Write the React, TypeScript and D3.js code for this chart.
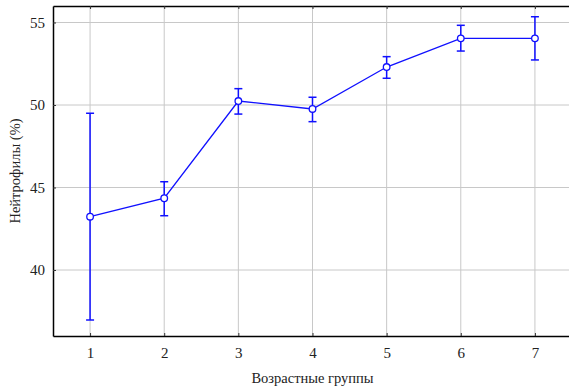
import { useEffect, useRef } from "react";
import * as d3 from "d3";

// age groups on the x axis
const groups = [1, 2, 3, 4, 5, 6, 7];
// neutrophil mean (%) per group
const means = [43.23, 44.35, 50.24, 49.76, 52.3, 54.04, 54.04];
// upper / lower ends of the whiskers
const upper = [49.5, 45.35, 50.99, 50.47, 52.93, 54.83, 55.35];
const lower = [36.97, 43.29, 49.45, 48.99, 51.62, 53.27, 52.73];
const yTicks = [40, 45, 50, 55];

const W = 569;
const H = 387;

const App = () => {
  const svgRef = useRef<SVGSVGElement>(null);

  useEffect(() => {
    const margin = { top: 6, right: -3, bottom: 51, left: 53 };
    const width = W - margin.left - margin.right;
    const height = H - margin.top - margin.bottom;
    const font = "'Liberation Serif', 'Times New Roman', serif";
    const blue = "#1010ff";

    const root = d3.select(svgRef.current);
    root.selectAll("*").remove();

    const g = root
      .append("g")
      .attr("transform", `translate(${margin.left},${margin.top})`);

    const x = d3.scaleLinear().domain([0.5, 7.5]).range([0, width]);
    const y = d3.scaleLinear().domain([36, 56]).range([height, 0]);

    // grid
    g.selectAll(".vgrid")
      .data(groups)
      .enter()
      .append("line")
      .attr("x1", (d) => x(d))
      .attr("x2", (d) => x(d))
      .attr("y1", 0)
      .attr("y2", height)
      .attr("stroke", "#c8c8c8")
      .attr("stroke-width", 1);

    g.selectAll(".hgrid")
      .data(yTicks)
      .enter()
      .append("line")
      .attr("x1", 0)
      .attr("x2", width)
      .attr("y1", (d) => y(d))
      .attr("y2", (d) => y(d))
      .attr("stroke", "#c8c8c8")
      .attr("stroke-width", 1);

    // axes (small inner ticks like the original)
    const xAxis = g
      .append("g")
      .attr("transform", `translate(0,${height})`)
      .call(
        d3.axisBottom(x).tickValues(groups).tickFormat(d3.format("d"))
          .tickSizeInner(-3).tickSizeOuter(0).tickPadding(11)
      );
    const yAxis = g
      .append("g")
      .call(d3.axisLeft(y).tickValues(yTicks).tickFormat(d3.format("d")).tickSizeInner(-3).tickSizeOuter(0).tickPadding(8));
    const topAxis = g
      .append("g")
      .call(d3.axisTop(x).tickValues(groups).tickSizeInner(-3).tickSizeOuter(0).tickFormat(() => ""));

    [xAxis, yAxis, topAxis].forEach((a) => {
      a.attr("font-family", font).attr("font-size", 15);
      a.select(".domain").attr("stroke", "#000").attr("stroke-width", 1.5);
      a.selectAll(".tick line").attr("stroke", "#333");
      a.selectAll("text").attr("fill", "#222");
    });

    // error bars
    const capW = 4;
    const bars = g
      .selectAll(".err")
      .data(groups)
      .enter()
      .append("g")
      .attr("stroke", blue)
      .attr("stroke-width", 1.5);
    bars
      .append("line")
      .attr("x1", (d) => x(d))
      .attr("x2", (d) => x(d))
      .attr("y1", (_, i) => y(upper[i]))
      .attr("y2", (_, i) => y(lower[i]));
    bars
      .append("line")
      .attr("x1", (d) => x(d) - capW)
      .attr("x2", (d) => x(d) + capW)
      .attr("y1", (_, i) => y(upper[i]))
      .attr("y2", (_, i) => y(upper[i]));
    bars
      .append("line")
      .attr("x1", (d) => x(d) - capW)
      .attr("x2", (d) => x(d) + capW)
      .attr("y1", (_, i) => y(lower[i]))
      .attr("y2", (_, i) => y(lower[i]));

    // mean line
    const line = d3
      .line<number>()
      .x((d) => x(d))
      .y((_, i) => y(means[i]));
    g.append("path")
      .datum(groups)
      .attr("d", line)
      .attr("fill", "none")
      .attr("stroke", blue)
      .attr("stroke-width", 1.3);

    g.selectAll(".pt")
      .data(groups)
      .enter()
      .append("circle")
      .attr("cx", (d) => x(d))
      .attr("cy", (_, i) => y(means[i]))
      .attr("r", 3.3)
      .attr("fill", "#fff")
      .attr("stroke", blue)
      .attr("stroke-width", 1.3);

    // axis titles
    root
      .append("text")
      .attr("x", margin.left + width / 2)
      .attr("y", 383)
      .attr("text-anchor", "middle")
      .attr("font-family", font)
      .attr("font-size", 14.5)
      .attr("fill", "#222")
      .text("Возрастные группы");

    root
      .append("text")
      .attr("transform", `translate(20,${margin.top + height / 2}) rotate(-90)`)
      .attr("text-anchor", "middle")
      .attr("font-family", font)
      .attr("font-size", 14.5)
      .attr("fill", "#222")
      .text("Нейтрофилы (%)");
  }, []);

  return (
    <svg
      ref={svgRef}
      width={W}
      height={H}
      style={{ position: "absolute", left: 0, top: 0, background: "#fff" }}
    ></svg>
  );
};

export default App;
